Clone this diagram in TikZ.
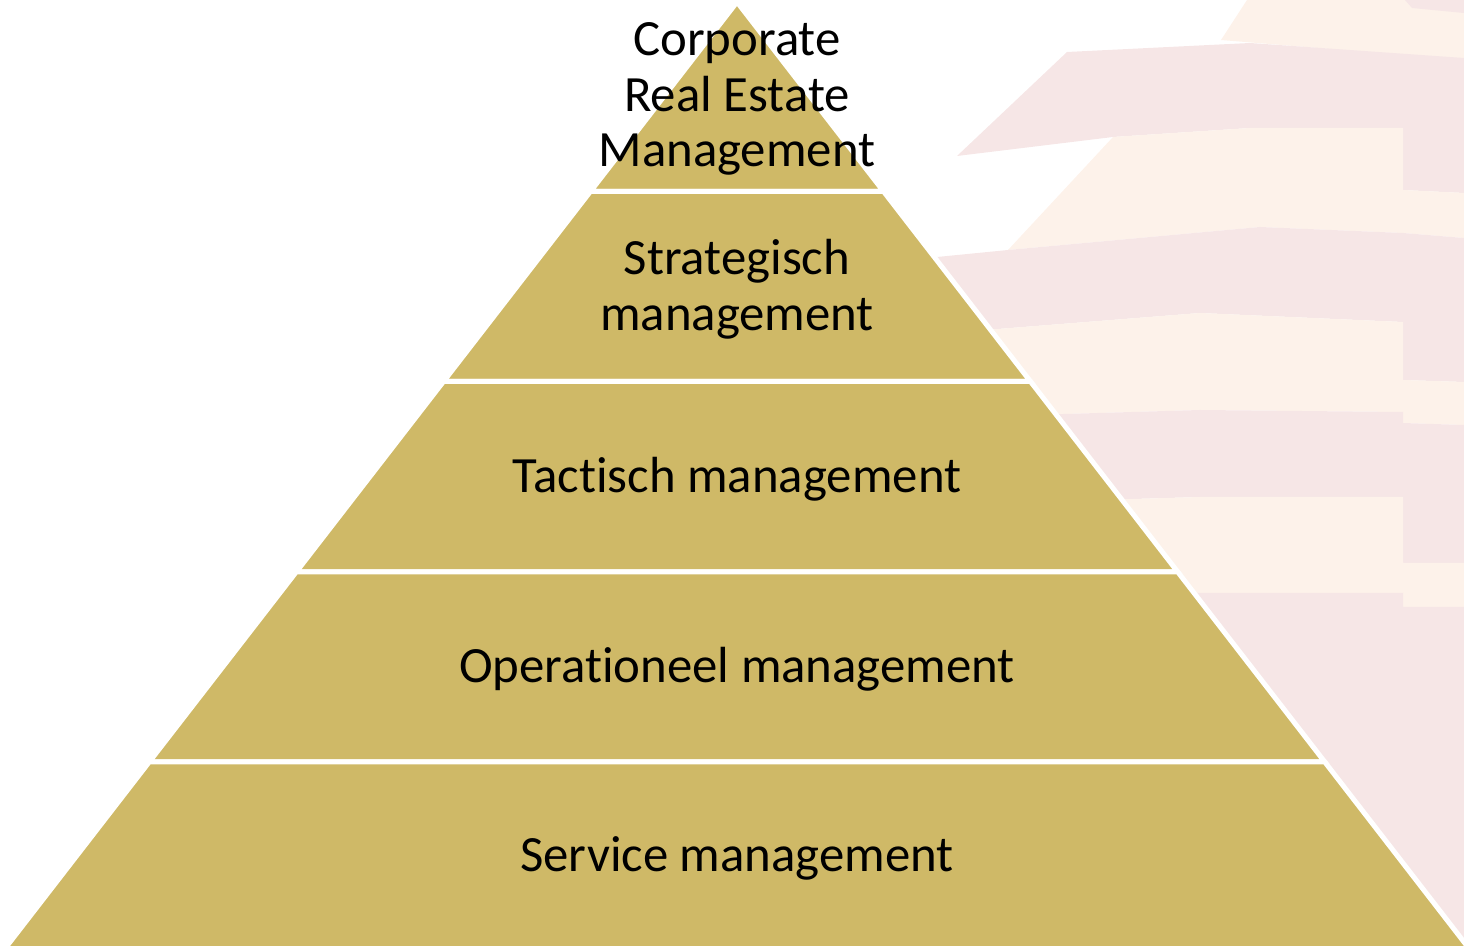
\documentclass[tikz,border=0pt]{standalone}
\usepackage{fontspec}
\setmainfont{Carlito}[Ligatures=NoCommon]
\definecolor{gold}{RGB}{207,185,103}
\definecolor{bgpink}{RGB}{246,230,230}
\definecolor{bgpeach}{RGB}{253,242,234}
\tikzset{
  layer/.style={fill=gold, draw=white, line width=2.5pt, line join=miter},
  lbl/.style={font=\fontsize{25.4}{27.9}\selectfont, align=center, text=black, inner sep=0pt},
  pinkband/.style={fill=bgpink, draw=none},
  peachband/.style={fill=bgpeach, draw=none}
}
\begin{document}
\begin{tikzpicture}[x=0.5pt,y=-0.5pt]
\useasboundingbox (0,0) rectangle (1464,946);
\clip (0,0) rectangle (1464,946);
% background watermark
\fill[peachband] (1247,0) -- (1464,0) -- (1464,60) -- (1221,40) -- cycle;
\fill[pinkband] (1405,0) -- (1464,0) -- (1464,13) -- (1412,8) -- cycle;
\fill[pinkband] (957,156) -- (1067,52) -- (1250,43) -- (1464,58) -- (1464,193) -- (1403,190) -- (1403,128) -- (1250,128) -- (1113,137) -- cycle;
\fill[peachband] (1113,137) -- (1250,128) -- (1403,128) -- (1403,190) -- (1464,193) -- (1464,238) -- (1403,233) -- (1260,227) -- (1008,250) -- cycle;
\fill[pinkband] (937,257) -- (1008,250) -- (1260,227) -- (1403,233) -- (1464,238) -- (1464,382) -- (1403,380) -- (1403,322) -- (1200,313) -- (960,332) -- cycle;
\fill[peachband] (960,332) -- (1200,313) -- (1403,322) -- (1403,380) -- (1464,382) -- (1464,425) -- (1403,423) -- (1403,412) -- (1200,410) -- (1030,415) -- cycle;
\fill[pinkband] (1030,415) -- (1200,410) -- (1403,412) -- (1403,423) -- (1464,425) -- (1464,563) -- (1403,563) -- (1403,497) -- (1200,497) -- (1100,500) -- cycle;
\fill[peachband] (1100,500) -- (1200,497) -- (1403,497) -- (1403,563) -- (1464,563) -- (1464,607) -- (1403,607) -- (1403,593) -- (1180,593) -- cycle;
\fill[pinkband] (1180,593) -- (1403,593) -- (1403,607) -- (1464,607) -- (1464,946) -- (1300,946) -- cycle;
% pyramid layers
\draw[layer] (737,2) -- (883.6,191.5) -- (590.4,191.5) -- cycle;
\draw[layer] (590.4,191.5) -- (883.6,191.5) -- (1030.5,381.5) -- (443.5,381.5) -- cycle;
\draw[layer] (443.5,381.5) -- (1030.5,381.5) -- (1177.8,572) -- (296.2,572) -- cycle;
\draw[layer] (296.2,572) -- (1177.8,572) -- (1324.8,762) -- (149.2,762) -- cycle;
\draw[layer] (149.2,762) -- (1324.8,762) -- (1477.9,960) -- (-3.9,960) -- cycle;
% labels
\node[lbl] (cre) at (737,99) {Corporate\\Real Estate\\Management};
\node[lbl] (strat) at (737,289) {Strategisch\\management};
\node[lbl] (tact) at (737,479) {Tactisch management};
\node[lbl] (oper) at (737,669.5) {Operationeel management};
\node[lbl] (serv) at (737,858.5) {Service management};
\end{tikzpicture}
\end{document}
